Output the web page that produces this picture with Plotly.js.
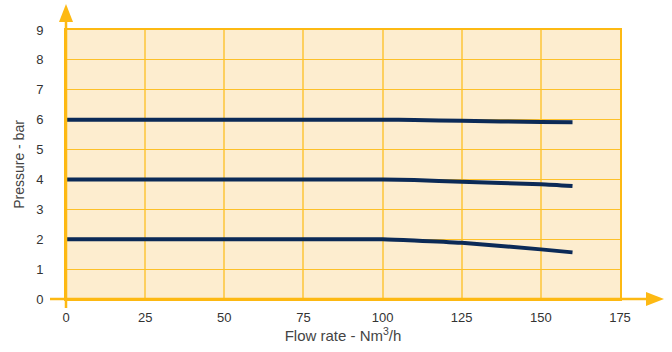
<!DOCTYPE html>
<html><head><meta charset="utf-8">
<script src="https://cdn.plot.ly/plotly-3.0.1.min.js"></script>
<style>html,body{margin:0;padding:0;background:#fff}#c{width:672px;height:352px}</style>
</head><body><div id="c"></div>
<script>
const flow = [0, 50, 90, 100, 110, 125, 150, 160];
const p6 = [6, 6, 6, 6, 5.99, 5.96, 5.92, 5.91];
const p4 = [4, 4, 4, 4, 3.98, 3.92, 3.84, 3.78];
const p2 = [2, 2, 2, 2, 1.96, 1.88, 1.66, 1.56];
const xTicks = [0, 25, 50, 75, 100, 125, 150, 175];
const yTicks = [0, 1, 2, 3, 4, 5, 6, 7, 8, 9];

const W = 672, H = 352, L = 66, R = 52, T = 30, B = 53;
const pw = W - L - R, ph = H - T - B;
const px = x => (x - L) / pw;
const py = y => (H - B - y) / ph;
const orange = '#FDB913';

const mk = y => ({x: flow, y: y, mode: 'lines', line: {color: '#0B2A57', width: 4, shape: 'spline', smoothing: 0.6}, hoverinfo: 'skip', showlegend: false});

const shapes = [
  {type: 'line', xref: 'paper', yref: 'paper', x0: px(50), x1: px(652), y0: 0, y1: 0, line: {color: orange, width: 2.5}},
  {type: 'line', xref: 'paper', yref: 'paper', x0: 0, x1: 0, y0: py(308), y1: py(16), line: {color: orange, width: 2.5}},
  {type: 'path', xref: 'paper', yref: 'paper', fillcolor: orange, line: {width: 0},
   path: `M ${px(664)} ${py(299)} L ${px(646)} ${py(292)} L ${px(646)} ${py(306)} Z`},
  {type: 'path', xref: 'paper', yref: 'paper', fillcolor: orange, line: {width: 0},
   path: `M ${px(66)} ${py(4)} L ${px(59)} ${py(22)} L ${px(73)} ${py(22)} Z`}
];

const layout = {
  width: W, height: H,
  margin: {l: L, r: R, t: T, b: B, pad: 0},
  paper_bgcolor: '#ffffff',
  plot_bgcolor: '#FDEDCF',
  font: {family: 'Liberation Sans, Arial, sans-serif', size: 13, color: '#333333'},
  xaxis: {range: [0, 175], tickvals: xTicks, ticktext: xTicks.map(String), showgrid: true, gridcolor: '#FDCF5E', gridwidth: 2,
    zeroline: false, showline: true, mirror: true, linecolor: orange, linewidth: 2,
    ticks: 'outside', ticklen: 5, tickcolor: 'rgba(0,0,0,0)',
    title: {text: 'Flow rate - Nm<sup>3</sup>/h', font: {size: 15, color: '#444444'}, standoff: 5}},
  yaxis: {range: [0, 9], tickvals: yTicks, ticktext: yTicks.map(String), showgrid: true, gridcolor: '#FDC12A', gridwidth: 1,
    zeroline: false, showline: true, mirror: true, linecolor: orange, linewidth: 2,
    ticks: 'outside', ticklen: 18, tickcolor: 'rgba(0,0,0,0)',
    title: {text: 'Pressure - bar', font: {size: 14, color: '#444444'}, standoff: 8}},
  shapes: shapes
};

Plotly.newPlot('c', [mk(p6), mk(p4), mk(p2)], layout, {displayModeBar: false, staticPlot: true});
</script>
</body></html>
